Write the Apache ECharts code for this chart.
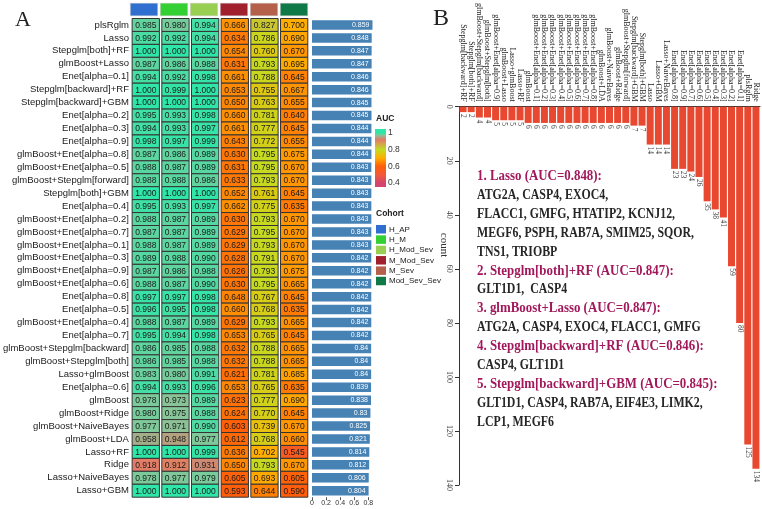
<!DOCTYPE html>
<html>
<head>
<meta charset="utf-8">
<script src="https://cdn.jsdelivr.net/npm/echarts@6/dist/echarts.min.js"></script>
<style>html,body{margin:0;padding:0;background:#fff}#main{width:762px;height:509px}</style>
</head>
<body>
<div id="main"></div>
<script>
// ---- panel A data ----
var cohorts = ['H_AP', 'H_M', 'H_Mod_Sev', 'M_Mod_Sev', 'M_Sev', 'Mod_Sev_Sev'];
var cohortColors = ['#2e6fd0', '#33cf33', '#98cf52', '#a0202e', '#b5604a', '#0f7a48'];
var models = ['plsRglm', 'Lasso', 'Stepglm[both]+RF', 'glmBoost+Lasso', 'Enet[alpha=0.1]',
  'Stepglm[backward]+RF', 'Stepglm[backward]+GBM', 'Enet[alpha=0.2]', 'Enet[alpha=0.3]', 'Enet[alpha=0.9]',
  'glmBoost+Enet[alpha=0.8]', 'glmBoost+Enet[alpha=0.5]', 'glmBoost+Stepglm[forward]', 'Stepglm[both]+GBM',
  'Enet[alpha=0.4]', 'glmBoost+Enet[alpha=0.2]', 'glmBoost+Enet[alpha=0.7]', 'glmBoost+Enet[alpha=0.1]',
  'glmBoost+Enet[alpha=0.3]', 'glmBoost+Enet[alpha=0.9]', 'glmBoost+Enet[alpha=0.6]', 'Enet[alpha=0.8]',
  'Enet[alpha=0.5]', 'glmBoost+Enet[alpha=0.4]', 'Enet[alpha=0.7]', 'glmBoost+Stepglm[backward]',
  'glmBoost+Stepglm[both]', 'Lasso+glmBoost', 'Enet[alpha=0.6]', 'glmBoost', 'glmBoost+Ridge',
  'glmBoost+NaiveBayes', 'glmBoost+LDA', 'Lasso+RF', 'Ridge', 'Lasso+NaiveBayes', 'Lasso+GBM'];
var aucH_AP = [0.985, 0.992, 1.000, 0.987, 0.994, 1.000, 1.000, 0.995, 0.994, 0.998, 0.987, 0.988, 0.988, 1.000,
  0.995, 0.988, 0.987, 0.988, 0.989, 0.987, 0.988, 0.997, 0.996, 0.988, 0.995, 0.986, 0.986, 0.983, 0.994,
  0.978, 0.980, 0.977, 0.958, 1.000, 0.918, 0.978, 1.000];
var aucH_M = [0.980, 0.992, 1.000, 0.986, 0.992, 0.999, 1.000, 0.993, 0.993, 0.997, 0.986, 0.987, 0.988, 1.000,
  0.993, 0.987, 0.987, 0.987, 0.988, 0.986, 0.987, 0.997, 0.995, 0.987, 0.994, 0.985, 0.985, 0.980, 0.993,
  0.973, 0.975, 0.971, 0.948, 1.000, 0.912, 0.977, 1.000];
var aucH_Mod_Sev = [0.994, 0.994, 1.000, 0.988, 0.998, 1.000, 1.000, 0.998, 0.997, 0.999, 0.989, 0.989, 0.986, 1.000,
  0.997, 0.989, 0.989, 0.989, 0.990, 0.988, 0.990, 0.998, 0.998, 0.989, 0.998, 0.988, 0.988, 0.991, 0.996,
  0.989, 0.988, 0.990, 0.977, 0.999, 0.931, 0.979, 1.000];
var aucM_Mod_Sev = [0.666, 0.634, 0.654, 0.631, 0.661, 0.653, 0.650, 0.660, 0.661, 0.643, 0.630, 0.631, 0.633, 0.652,
  0.662, 0.630, 0.629, 0.629, 0.628, 0.626, 0.630, 0.648, 0.660, 0.629, 0.653, 0.632, 0.632, 0.621, 0.653,
  0.623, 0.624, 0.603, 0.612, 0.636, 0.650, 0.605, 0.593];
var aucM_Sev = [0.827, 0.786, 0.760, 0.793, 0.788, 0.755, 0.763, 0.781, 0.777, 0.772, 0.795, 0.795, 0.793, 0.761,
  0.775, 0.793, 0.795, 0.793, 0.791, 0.793, 0.795, 0.767, 0.768, 0.793, 0.765, 0.788, 0.788, 0.781, 0.765,
  0.777, 0.770, 0.739, 0.768, 0.702, 0.793, 0.693, 0.644];
var aucMod_Sev_Sev = [0.700, 0.690, 0.670, 0.695, 0.645, 0.667, 0.655, 0.640, 0.645, 0.655, 0.675, 0.670, 0.670, 0.645,
  0.635, 0.670, 0.670, 0.670, 0.670, 0.675, 0.665, 0.645, 0.635, 0.665, 0.645, 0.665, 0.665, 0.685, 0.635,
  0.690, 0.645, 0.670, 0.660, 0.545, 0.670, 0.605, 0.590];
var meanAuc = [0.859, 0.848, 0.847, 0.847, 0.846, 0.846, 0.845, 0.845, 0.844, 0.844, 0.844, 0.843, 0.843, 0.843,
  0.843, 0.843, 0.843, 0.843, 0.842, 0.842, 0.842, 0.842, 0.842, 0.842, 0.842, 0.84, 0.84, 0.84, 0.839,
  0.838, 0.83, 0.825, 0.821, 0.814, 0.812, 0.806, 0.804];
var aucTicks = ['1', '0.8', '0.6', '0.4'];

// ---- panel B data ----
var bModels = ['Stepglm[backward]+RF', 'Stepglm[both]+RF', 'glmBoost+Stepglm[backward]', 'glmBoost+Stepglm[both]',
  'glmBoost+Enet[alpha=0.9]', 'glmBoost+Lasso', 'Lasso+glmBoost', 'Lasso+RF', 'glmBoost',
  'glmBoost+Enet[alpha=0.1]', 'glmBoost+Enet[alpha=0.2]', 'glmBoost+Enet[alpha=0.3]', 'glmBoost+Enet[alpha=0.4]',
  'glmBoost+Enet[alpha=0.5]', 'glmBoost+Enet[alpha=0.6]', 'glmBoost+Enet[alpha=0.7]', 'glmBoost+Enet[alpha=0.8]',
  'glmBoost+LDA', 'glmBoost+NaiveBayes', 'glmBoost+Ridge', 'glmBoost+Stepglm[forward]', 'Stepglm[backward]+GBM',
  'Stepglm[both]+GBM', 'Lasso', 'Lasso+GBM', 'Lasso+NaiveBayes', 'Enet[alpha=0.8]', 'Enet[alpha=0.9]',
  'Enet[alpha=0.7]', 'Enet[alpha=0.6]', 'Enet[alpha=0.5]', 'Enet[alpha=0.4]', 'Enet[alpha=0.3]',
  'Enet[alpha=0.2]', 'Enet[alpha=0.1]', 'plsRglm', 'Ridge'];
var bCounts = [2, 2, 4, 4, 5, 5, 5, 5, 6, 6, 6, 6, 6, 6, 6, 6, 6, 6, 6, 6, 6, 7, 7, 14, 14, 14, 23, 23, 24, 26,
  35, 38, 41, 59, 80, 125, 134];
var noteLines = [
  ['1. Lasso (AUC=0.848):', 1],
  ['ATG2A, CASP4, EXOC4,', 0],
  ['FLACC1, GMFG, HTATIP2, KCNJ12,', 0],
  ['MEGF6, PSPH, RAB7A, SMIM25, SQOR,', 0],
  ['TNS1, TRIOBP', 0],
  ['2. Stepglm[both]+RF (AUC=0.847):', 1],
  ['GLT1D1,  CASP4', 0],
  ['3. glmBoost+Lasso (AUC=0.847):', 1],
  ['ATG2A, CASP4, EXOC4, FLACC1, GMFG', 0],
  ['4. Stepglm[backward]+RF (AUC=0.846):', 1],
  ['CASP4, GLT1D1', 0],
  ['5. Stepglm[backward]+GBM (AUC=0.845):', 1],
  ['GLT1D1, CASP4, RAB7A, EIF4E3, LIMK2,', 0],
  ['LCP1, MEGF6', 0]
];

// colour ramp for AUC
var aucStops = [[0.4, '#d4456e'], [0.5, '#f25838'], [0.6, '#ff5e08'], [0.7, '#ffae00'], [0.8, '#c2dc22'],
  [0.92, '#e27a68'], [0.975, '#86c698'], [1, '#2ee6a8']];
function hexRgb(c) { return [parseInt(c.slice(1, 3), 16), parseInt(c.slice(3, 5), 16), parseInt(c.slice(5, 7), 16)]; }
function colorAt(v) {
  for (var i = 1; i < aucStops.length; i++) {
    if (v <= aucStops[i][0] + 1e-9) {
      var a = aucStops[i - 1], b = aucStops[i];
      var t = (v - a[0]) / (b[0] - a[0]);
      var ca = hexRgb(a[1]), cb = hexRgb(b[1]);
      return 'rgb(' + ca.map(function (x, k) { return Math.round(x + (cb[k] - x) * t); }).join(',') + ')';
    }
  }
  return aucStops[aucStops.length - 1][1];
}
var ramp = [];
for (var k = 0; k <= 120; k++) ramp.push(colorAt(0.4 + k * 0.005));

var cohortAuc = [aucH_AP, aucH_M, aucH_Mod_Sev, aucM_Mod_Sev, aucM_Sev, aucMod_Sev_Sev];
var heatData = [];
cohortAuc.forEach(function (col, j) {
  col.forEach(function (v, i) { heatData.push([j, i, v]); });
});

var chart = echarts.init(document.getElementById('main'));
var sans = '"Liberation Sans", Arial, sans-serif';
var serif = '"Liberation Serif", "Times New Roman", serif';

var graphics = [
  { type: 'text', left: 15, top: 9, style: { text: 'A', font: '22px ' + serif, fill: '#222' } },
  { type: 'text', left: 433, top: 7, style: { text: 'B', font: '24px ' + serif, fill: '#222' } },
  { type: 'text', left: 376, top: 114, style: { text: 'AUC', font: 'bold 8.5px ' + sans, fill: '#222' } },
  {
    type: 'rect', shape: { x: 375, y: 129, width: 11, height: 58 },
    style: {
      fill: new echarts.graphic.LinearGradient(0, 0, 0, 1, aucStops.slice().reverse().map(function (s) {
        return { offset: (1 - s[0]) / 0.6 * (50 / 58) + 4 / 58, color: s[1] };
      }))
    }
  },
  { type: 'text', left: 376, top: 209, style: { text: 'Cohort', font: 'bold 8.5px ' + sans, fill: '#222' } },
  { type: 'text', x: 444, y: 245, rotation: -Math.PI / 2, style: { text: 'count', font: '11px ' + serif, fill: '#333', align: 'center', verticalAlign: 'middle' } }
];
aucTicks.forEach(function (t, i) {
  graphics.push({ type: 'text', x: 388, y: 133 + i * 16.7, style: { text: t, font: '8.5px ' + sans, fill: '#333', verticalAlign: 'middle' } });
});
cohorts.forEach(function (c, i) {
  graphics.push({ type: 'rect', shape: { x: 376, y: 225 + i * 10.35, width: 10, height: 8.5 }, style: { fill: cohortColors[i] } });
  graphics.push({ type: 'text', x: 389, y: 229.5 + i * 10.35, style: { text: c, font: '8px ' + sans, fill: '#222', verticalAlign: 'middle' } });
});
noteLines.forEach(function (l, i) {
  graphics.push({
    type: 'text', x: 477, y: 176 + i * 18.93, scaleX: l[1] ? 0.86 : 0.79,
    style: { text: l[0], font: 'bold 15px ' + serif, fill: l[1] ? '#a2185b' : '#262626', verticalAlign: 'middle' }
  });
});

var option = {
  backgroundColor: '#fff',
  animation: false,
  grid: [
    { left: 129, top: 18.5, width: 180, height: 478.7 },
    { left: 129, top: 3, width: 180, height: 13 },
    { left: 312, top: 18.5, width: 70.4, height: 478.7 },
    { left: 459, top: 106, width: 301, height: 379 }
  ],
  xAxis: [
    { gridIndex: 0, type: 'category', data: cohorts, show: false },
    { gridIndex: 1, type: 'category', data: cohorts, show: false },
    {
      gridIndex: 2, type: 'value', min: 0, max: 1, interval: 0.2,
      axisLine: { show: false }, splitLine: { show: false },
      axisTick: { show: true, length: 3, lineStyle: { color: '#555' } },
      axisLabel: { fontSize: 7, margin: 2, color: '#333', fontFamily: sans, showMaxLabel: false }
    },
    {
      gridIndex: 3, type: 'category', data: bModels, position: 'top',
      axisLine: { lineStyle: { color: '#333' } },
      axisTick: { alignWithLabel: true, length: 3, lineStyle: { color: '#333' } },
      axisLabel: { rotate: -90, interval: 0, fontSize: 8, fontFamily: serif, color: '#222', margin: 5 }
    }
  ],
  yAxis: [
    {
      gridIndex: 0, type: 'category', data: models, inverse: true,
      axisLine: { show: false }, axisTick: { show: false },
      axisLabel: { interval: 0, fontSize: 9.5, fontFamily: sans, color: '#1a1a1a', margin: 2 }
    },
    { gridIndex: 1, type: 'category', data: [''], show: false },
    { gridIndex: 2, type: 'category', data: models, inverse: true, show: false },
    {
      gridIndex: 3, type: 'value', inverse: true, min: 0, max: 140, interval: 20,
      axisLine: { show: true, lineStyle: { color: '#333' } },
      axisTick: { show: true, length: 4, lineStyle: { color: '#333' } },
      splitLine: { show: false },
      axisLabel: { rotate: -90, fontSize: 8, fontFamily: serif, color: '#444', margin: 6 }
    }
  ],
  visualMap: {
    show: false, type: 'continuous', min: 0.4, max: 1, seriesIndex: 0, dimension: 2,
    inRange: { color: ramp }
  },
  graphic: graphics,
  series: [
    {
      type: 'custom', xAxisIndex: 0, yAxisIndex: 0, data: heatData,
      renderItem: function (params, api) {
        var c = api.coord([api.value(0), api.value(1)]);
        var s = api.size([1, 1]);
        var w = s[0] - 2.4, h = s[1];
        return {
          type: 'group',
          children: [
            { type: 'rect', shape: { x: c[0] - w / 2, y: c[1] - h / 2, width: w, height: h },
              style: { fill: api.visual('color'), stroke: '#333', lineWidth: 1 } },
            { type: 'text', style: { text: api.value(2).toFixed(3), x: c[0], y: c[1] + 0.5, align: 'center',
              verticalAlign: 'middle', fontSize: 8.5, fontFamily: sans, fill: '#1a1a1a' } }
          ]
        };
      }
    },
    {
      type: 'custom', xAxisIndex: 1, yAxisIndex: 1, data: cohorts.map(function (c, i) { return [i, 0]; }),
      renderItem: function (params, api) {
        var c = api.coord([api.value(0), 0]);
        var s = api.size([1, 1]);
        var w = s[0] - 2.6;
        return { type: 'rect', shape: { x: c[0] - w / 2, y: c[1] - 6.3, width: w, height: 12.6 },
          style: { fill: cohortColors[params.dataIndex], stroke: '#ccc', lineWidth: 0.5 } };
      }
    },
    {
      type: 'bar', xAxisIndex: 2, yAxisIndex: 2, data: meanAuc, barWidth: 9.5,
      itemStyle: { color: '#4682b4' },
      label: { show: true, position: 'insideRight', distance: 3, color: '#fff', fontSize: 7, fontFamily: sans,
        formatter: function (p) { return String(p.value); } }
    },
    {
      type: 'bar', xAxisIndex: 3, yAxisIndex: 3, data: bCounts, barWidth: 7,
      itemStyle: { color: '#e8482f' },
      label: { show: true, position: 'bottom', distance: 2, rotate: -90, align: 'left', verticalAlign: 'middle',
        fontSize: 7.5, fontFamily: serif, color: '#444' }
    }
  ]
};
chart.setOption(option);
</script>
</body>
</html>
